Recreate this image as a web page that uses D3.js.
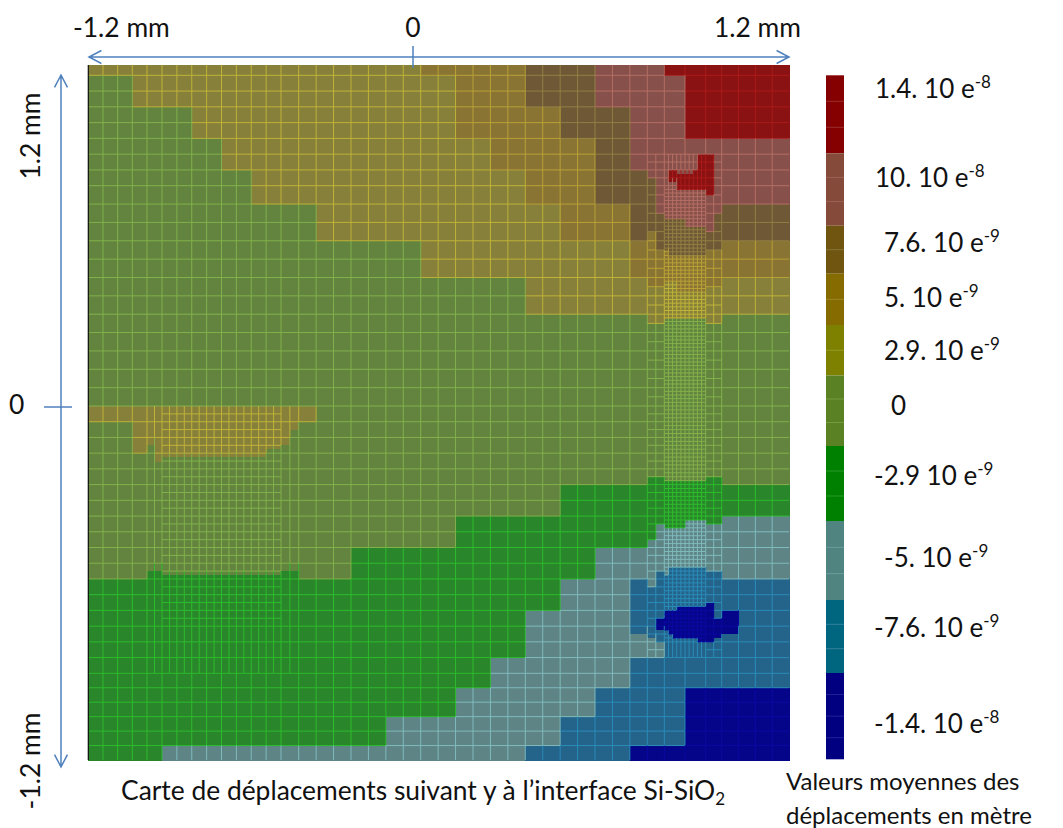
<!DOCTYPE html>
<html>
<head>
<meta charset="utf-8">
<script src="https://d3js.org/d3.v7.min.js"></script>
<style>
  body { margin: 0; background: #fff; }
  text { font-family: Lato, "Open Sans", sans-serif; fill: #111; }
</style>
</head>
<body>
<div id="canvas"></div>
<script>
// class of each displacement band, strongest positive to strongest negative
var classKeys = ["R", "P", "B", "O", "Y", "G", "D", "S", "T", "N"];
var classFills = ["#8a1212", "#87504a", "#6e5835", "#8a7433", "#87803a", "#62843f", "#2a862a", "#5e8486", "#24648a", "#05058a"];
var classLines = ["#b01c1c", "#bc7468", "#998646", "#bfa838", "#c8bb38", "#88b84e", "#2ec42e", "#86c4c4", "#2c92c0", "#0b0ba6"];

// one entry per mesh row: class letter + column where the run stops
var meshRows = [
    "Y21 O27 B31 P35 R42",
    "G3 Y23 O27 B31 P36 R42",
    "G3 Y23 O27 B31 P36 R42",
    "G7 Y23 O29 B33 P36 R42",
    "G7 Y23 O29 B33 P36 R42",
    "G9 Y25 O31 B33 P42",
    "G9 Y25 O31 B33 P42",
    "G11 Y27 O31 B34 P42",
    "G11 Y27 O31 B34 P42",
    "G15 Y29 O33 B42",
    "G15 Y29 O33 B42",
    "G21 Y33 O42",
    "G21 Y33 O42",
    "G27 Y42",
    "G27 Y42",
    "G42",
    "G42",
    "G42",
    "G42",
    "G42",
    "Y15 G42",
    "G3 Y14 G42",
    "G3 Y14 G42",
    "G42",
    "G42",
    "G29 D42",
    "G29 D42",
    "G23 D34 S42",
    "G23 D34 S42",
    "G17 D31 S42",
    "G17 D31 S42",
    "D29 S33 T42",
    "D29 S33 T42",
    "D27 S33 T42",
    "D27 S33 T42",
    "D27 S33 T42",
    "D25 S33 T42",
    "D25 S33 T42",
    "D23 S31 T36 N42",
    "D23 S31 T36 N42",
    "D19 S29 T36 N42",
    "D19 S29 T36 N42",
    "D5 S27 T33 N42"
];

// refined zones, four sub-rows per mesh row
var upperRightCells = [
    "PPPPPPPPPPRRRP", "PPPPPPPPPPRRRP", "PPPPPPPPPPRRRP", "PPPPPPPPPPRRRP",
    "PPPRRPPPPRRRRP", "PPPRRRRRRRRRRP", "BPPRRRRRRRRRRP", "BPPPPRRRRRRRRP",
    "BPPPPRRRRRRRRP", "BPPPPPPPPPPPRP", "BPPPPPPPPPPPPP", "BPPPPPPPPPPPPP",
    "BPPPPPPPPPPPPP", "BPPPPPPPPPPPPP", "BBPPPPPPPPPPPB", "BBBBBBBPPPPPPB",
    "BBBBBBBPPPPPPB", "BBBBBBBBBBBBPB", "OBBBBBBBBBBBBB", "OBBBBBBBBBBBBB",
    "OBBBBBBBBBBBBB", "OBBBBBBBBBBBBB", "OOOBBBBBBBBBOO", "OOOOOOOOOOOOOO",
    "OOOOOOOOOOOOOO", "OOOOOOOOOOOOOO", "OOOOOOOOOOOOOO", "OOOOOOOOOOOOOO",
    "OOOOOOOOOOOOOO", "OOYYYOOOOOOOOO", "YYYYYOOOOOOOYY", "YYYYYYYYYYYYYY",
    "YYYYYYYYYYYYYY", "YYYYYYYYYYYYYY", "YYYYYYYYYYYYYY", "YYYYYYYYYYYYYY",
    "YYYYYYYYYYYYYY", "YYGGGGGGGGGGYY", "GGGGGGGGGGGGGG", "GGGGGGGGGGGGGG"
];
var middleRightCells = [
    "GGGGGGGGGGGGGG", "GGGGGGGGGGGGGG", "DDGGGGGGGGGGDD", "DDDDDDDDDDDDDD"
];
var lowerRightCells = [
    "DDDDDDDDDDDDDDDS", "DDDDDDDDSSSSSDDS", "DDSDDDDDSSSSSSSS", "DDSSSSSSSSSSSSSS",
    "DDSSSSSSSSSSSSSS", "DDSSSSSSSSSSSSSS", "DSSSSSSSSSSSSSSS", "DSSSSSSSSSSSSSSS",
    "SSSSSSSSSSSSSSSS", "SSSSSSSSSSSSSSSS", "SSSSSSSSSSSSSSSS", "SSSSSSSSSSSSSSSS",
    "SSSSSSSSSSSSSSSS", "SSSSTTTTTTTTTSSS", "SSTSTTTTTTTTTTTS", "SSTTTTTTTTTTTTTS",
    "TSTTTTTTTTTTTTTT", "TSTTTTTTTTTTTTTT", "TTTTTTTTTTTTTTTT", "TTTTTTTTTTTTTTTT",
    "TTTTTTTTTTTTTTTT", "TTTTTTTTTTTTTTTT", "TTTTTTTTTTTTTNTT", "TTTTTTNNNNNNNNTT",
    "TTTNNNNNNNNNNNTN", "TTTNNNNNNNNNNNTN", "TTNNNNNNNNNNNNNN", "TTNNNNNNNNNNNNNN",
    "TTNNNNNNNNNNNNNN", "TTTTNNNNNNNNNNNN", "STTTTNNNNNNNNNNT", "SSTTTTTTTTTNNNTT",
    "SSSTTTTTTTTTTTTT", "SSSTTTTTTTTTTTTT", "SSSTTTTTTTTTTTTT", "SSSTTTTTTTTTTTTT"
];
var upperLeftCells = [
    "YYYYYYYYYYYYYYYYYYYY", "YYYYYYYYYYYYYYYYYYYY", "YYYYYYYYYYYYYYYYYYYG", "YYYYYYYYYYYYYYYYYYYG",
    "YYYYYYYYYYYYYYYYYYYG", "YYYYYYYYYYYYYYYYYYYG", "GYYYYYYYYYYYYYYYYYGG", "GYYYYYYYYYYYYYYYGGGG",
    "GYYYYYYYYYYYYYYYGGGG", "GYGGGGGGGGGGGGGGGGGG"
];
var lowerLeftCells = [
    "GGGGGGGGGGGGGGGGGGGG", "GGGGGGGGGGGGGGGGGGGG", "DDGGGGGGGGGGGGGGGGDD", "DDDDDDDDDDDDDDDDDDDD"
];
var cellZones = [
    { col: 34, row: 6, cells: upperRightCells },
    { col: 34, row: 24, cells: middleRightCells },
    { col: 33, row: 27, cells: lowerRightCells },
    { col: 4, row: 21, cells: upperLeftCells },
    { col: 4, row: 30, cells: lowerLeftCells }
];

// legend
var legendLabels = ["1.4. 10 e", "10. 10 e", "7.6. 10 e", "5. 10 e", "2.9. 10 e", "0", "-2.9 10 e", "-5. 10 e", "-7.6. 10 e", "-1.4. 10 e"];
var legendExponents = ["-8", "-8", "-9", "-9", "-9", "", "-9", "-9", "-9", "-8"];
var legendFills = ["#850000", "#854a3a", "#6f5510", "#866c00", "#7e8000", "#5a8224", "#008000", "#4f8480", "#00667f", "#000080"];
var legendLines = ["#a03a3a", "#a06a5e", "#8b7a3e", "#a08c30", "#99a030", "#7da04a", "#30a030", "#72a4a2", "#3f88a2", "#2a2aa0"];
var legendSteps = [3, 3, 2, 2, 2, 3, 3, 3, 3, 4];

// layout
var width = 1063;
var height = 828;
var legendLabelX = [875, 875, 884, 884, 884, 891, 874, 884, 874, 874];
var legendLabelY = [98, 187, 252, 307, 360, 415, 485, 567, 637, 733];

var canvas = d3.select("#canvas")
    .append("svg")
    .attr("width", width)
    .attr("height", height)
    .style("display", "block");

// the mesh is not regular, so both scales are piecewise
var xMesh = d3.scaleLinear()
    .domain([0, 4, 5, 13, 14, 34, 35, 37, 38, 42])
    .range([88.3, 147, 162, 281, 298.7, 647.3, 664.3, 705.7, 721.7, 789]);
var yMesh = d3.scaleLinear()
    .domain([0, 1, 8, 20, 37, 43])
    .range([65, 75.3, 185.7, 406, 673.3, 760]);
var fillOf = d3.scaleOrdinal().domain(classKeys).range(classFills);
var lineOf = d3.scaleOrdinal().domain(classKeys).range(classLines);

function colSplit(c) {
    if (c >= 4 && c < 14) return 2;
    if (c == 34 || c == 37) return 2;
    if (c == 35 || c == 36) return 5;
    return 1;
}

function rowSplit(r, c) {
    if (c >= 5 && c < 13) return r >= 20 && r < 34 ? 2 : 1;
    if (c == 35 || c == 36) {
        if (r >= 8 && r < 20) return 5;
        if (r >= 20 && r < 35) return 4;
        if (r == 6 || r == 7) return 2;
        return 1;
    }
    if (c == 34 || c == 37) return r >= 6 && r < 36 ? 2 : 1;
    return 1;
}

function inLeftZone(r, c) { return c >= 4 && c < 14 && r >= 20 && r < 37; }
function inRightZone(r, c) { return c >= 34 && c < 38 && r >= 6 && r < 36; }

// column edges of a zone, in mesh units
function zoneEdges(zone) {
    var n = zone.cells[0].length;
    var edges = [zone.col];
    var c = zone.col;
    while (edges.length <= n) {
        var s = colSplit(c);
        for (var i = 1; i <= s; i++) edges.push(c + i / s);
        c += 1;
    }
    return edges;
}

// flat list of coloured rectangles
var fillCells = [];
meshRows.forEach(function (line, r) {
    var start = 0;
    line.split(" ").forEach(function (tok) {
        var stop = +tok.slice(1);
        fillCells.push({ x0: start, x1: stop, y0: r, y1: r + 1, k: tok[0] });
        start = stop;
    });
});
cellZones.forEach(function (zone) {
    var edges = zoneEdges(zone);
    zone.cells.forEach(function (line, s) {
        line.split("").forEach(function (k, i) {
            fillCells.push({
                x0: edges[i], x1: edges[i + 1],
                y0: zone.row + s / 4, y1: zone.row + (s + 1) / 4,
                k: k
            });
        });
    });
});

function classAt(x, y) {
    var hit = null;
    fillCells.forEach(function (d) {
        if (x >= d.x0 && x < d.x1 && y >= d.y0 && y < d.y1) hit = d.k;
    });
    return hit;
}

canvas.append("g")
    .attr("shape-rendering", "crispEdges")
    .selectAll("rect")
    .data(fillCells)
    .join("rect")
    .attr("x", d => xMesh(d.x0))
    .attr("y", d => yMesh(d.y0))
    .attr("width", d => xMesh(d.x1) - xMesh(d.x0) + 0.5)
    .attr("height", d => yMesh(d.y1) - yMesh(d.y0) + 0.5)
    .attr("fill", d => fillOf(d.k));

// mesh lines on top, tinted by the band they cross
var meshCells = [];
meshRows.forEach(function (line, r) {
    for (var c = 0; c < 42; c++) {
        var nx = inLeftZone(r, c) || inRightZone(r, c) ? colSplit(c) : 1;
        var ny = inLeftZone(r, c) || inRightZone(r, c) ? rowSplit(r, c) : 1;
        for (var i = 0; i < nx; i++) {
            for (var j = 0; j < ny; j++) {
                meshCells.push({
                    x0: c + i / nx, x1: c + (i + 1) / nx,
                    y0: r + j / ny, y1: r + (j + 1) / ny
                });
            }
        }
    }
});
meshCells.forEach(function (d) {
    d.k = classAt((d.x0 + d.x1) / 2, (d.y0 + d.y1) / 2);
});

var meshSegments = canvas.append("g")
    .attr("fill", "none")
    .attr("stroke-width", 1)
    .attr("stroke-opacity", 0.85);
meshSegments.selectAll("path")
    .data(meshCells)
    .join("path")
    .attr("stroke", d => lineOf(d.k))
    .attr("d", d => {
        var right = d.x1 < 42 ? "M" + xMesh(d.x1) + "," + yMesh(d.y0) + "V" + yMesh(d.y1) : "";
        var below = d.y1 < 43 ? "M" + xMesh(d.x0) + "," + yMesh(d.y1) + "H" + xMesh(d.x1) : "";
        return right + below;
    });

// dark edge on the left of the map
canvas.append("line")
    .attr("x1", xMesh(0)).attr("x2", xMesh(0))
    .attr("y1", yMesh(0)).attr("y2", yMesh(43))
    .attr("stroke", "#111").attr("stroke-width", 1.2);

// colour bar, ten bands of unequal height
var yLegend = d3.scaleLinear()
    .domain([0, 1, 2, 3, 4, 5, 6, 7, 8, 9, 10])
    .range([75.3, 153.3, 225.7, 273.7, 325, 375.5, 446, 521, 600, 673, 759.3]);
var legendG = canvas.append("g");
legendG.selectAll("rect")
    .data(legendFills)
    .join("rect")
    .attr("x", 826)
    .attr("width", 18)
    .attr("y", (d, i) => yLegend(i))
    .attr("height", (d, i) => yLegend(i + 1) - yLegend(i))
    .attr("fill", d => d);

var legendTicks = [];
legendSteps.forEach(function (n, i) {
    for (var s = 1; s < n; s++) legendTicks.push({ v: i + s / n, c: legendLines[i] });
});
legendG.selectAll("line")
    .data(legendTicks)
    .join("line")
    .attr("x1", 826).attr("x2", 844)
    .attr("y1", d => yLegend(d.v)).attr("y2", d => yLegend(d.v))
    .attr("stroke", d => d.c)
    .attr("stroke-opacity", 0.8);

var labels = canvas.append("g").attr("font-size", 26);
legendLabels.forEach(function (t, i) {
    var label = labels.append("text")
        .attr("x", legendLabelX[i])
        .attr("y", legendLabelY[i])
        .text(t);
    if (legendExponents[i]) {
        label.append("tspan")
            .attr("dy", -10)
            .attr("font-size", 17)
            .text(legendExponents[i]);
    }
});

// axis arrows
var arrowColor = "#4f81bd";
function arrow(x1, y1, x2, y2) {
    var ang = Math.atan2(y2 - y1, x2 - x1);
    var len = 14;
    var spread = 0.48;
    function head(px, py, a) {
        return "M" + (px + len * Math.cos(a + spread)) + "," + (py + len * Math.sin(a + spread))
            + "L" + px + "," + py
            + "L" + (px + len * Math.cos(a - spread)) + "," + (py + len * Math.sin(a - spread));
    }
    canvas.append("path")
        .attr("d", "M" + x1 + "," + y1 + "L" + x2 + "," + y2 + head(x1, y1, ang) + head(x2, y2, ang + Math.PI))
        .attr("fill", "none")
        .attr("stroke", arrowColor)
        .attr("stroke-width", 1.5);
}
arrow(89, 57, 789, 57);
arrow(61, 75, 61, 767);
canvas.append("line").attr("x1", 413).attr("x2", 413).attr("y1", 46).attr("y2", 68)
    .attr("stroke", arrowColor).attr("stroke-width", 1.5);
canvas.append("line").attr("x1", 44).attr("x2", 72).attr("y1", 407).attr("y2", 407)
    .attr("stroke", arrowColor).attr("stroke-width", 1.5);

var axisText = canvas.append("g").attr("font-size", 26.4);
axisText.append("text").attr("x", 73).attr("y", 37).text("-1.2 mm");
axisText.append("text").attr("x", 413).attr("y", 37).attr("text-anchor", "middle").text("0");
axisText.append("text").attr("x", 714).attr("y", 37).text("1.2 mm");
axisText.append("text").attr("x", 9).attr("y", 414).text("0");
axisText.append("text").attr("transform", "translate(40,136) rotate(-90)").attr("text-anchor", "middle").text("1.2 mm");
axisText.append("text").attr("transform", "translate(40,761) rotate(-90)").attr("text-anchor", "middle").text("-1.2 mm");

// captions
var caption = canvas.append("text")
    .attr("x", 121).attr("y", 800).attr("font-size", 26.4)
    .text("Carte de déplacements suivant y à l’interface Si-SiO");
caption.append("tspan").attr("dy", 5).attr("font-size", 17).text("2");

canvas.append("text").attr("x", 786).attr("y", 790).attr("font-size", 24).text("Valeurs moyennes des");
canvas.append("text").attr("x", 786).attr("y", 824).attr("font-size", 24).text("déplacements en mètre");
</script>
</body>
</html>
